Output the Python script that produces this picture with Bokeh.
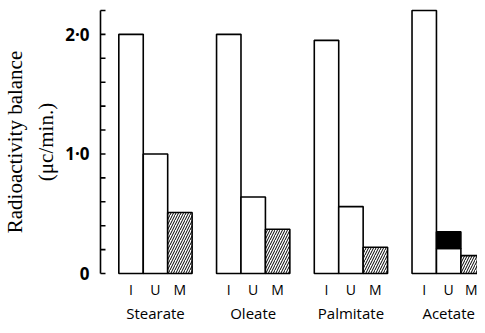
from bokeh.plotting import figure
from bokeh.models import Range1d, FixedTicker, LinearAxis, ColumnDataSource, Title
from bokeh.embed import file_html
from bokeh.resources import INLINE

# ---- data ----
groups = ["Stearate", "Oleate", "Palmitate", "Acetate"]
subs = ["I", "U", "M"]
intake = [2.0, 2.0, 1.95, 2.2]
uptake = [1.0, 0.64, 0.56, 0.21]
uptake_black = [0.0, 0.0, 0.0, 0.14]
muscle = [0.51, 0.37, 0.22, 0.15]
y_major = [0, 1, 2]
y_major_labels = ["0", "1\u00b70", "2\u00b70"]
y_minor = [0.2, 0.4, 0.6, 0.8, 1.2, 1.4, 1.6, 1.8, 2.2]
y_axis_top = 2.2
y_title = ["Radioactivity balance", "(\u03bcc/min.)"]

slots = len(subs) + 1
pos = lambda g, k: g * slots + k
spine_x = -1.25           # axis spine position (in bar-slot units)
pad_x = 2 / 24.5          # small pad so the spine is not clipped
pad_y = 2 / 122.7

p = figure(width=477, height=325, output_backend="svg", toolbar_location=None,
           x_range=Range1d(spine_x - pad_x, 14.18),
           y_range=Range1d(-pad_y, y_axis_top + pad_y),
           min_border_left=97, min_border_right=0, min_border_top=8,
           min_border_bottom=45)
p.outline_line_color = None
p.xgrid.visible = False
p.ygrid.visible = False
p.border_fill_color = "white"
p.background_fill_color = "white"

bar_kw = dict(width=1, line_color="black", line_width=1.6)

xi = [pos(g, 0) for g in range(len(groups))]
xu = [pos(g, 1) for g in range(len(groups))]
xm = [pos(g, 2) for g in range(len(groups))]
p.vbar(x=xi, top=intake, bottom=0, fill_color="white", **bar_kw)
p.vbar(x=xu, top=uptake, bottom=0, fill_color="white", **bar_kw)
blk_top = [u + b for u, b in zip(uptake, uptake_black)]
src_b = ColumnDataSource(dict(x=[x for x, b in zip(xu, uptake_black) if b > 0],
                              bottom=[u for u, b in zip(uptake, uptake_black) if b > 0],
                              top=[t for t, b in zip(blk_top, uptake_black) if b > 0]))
p.vbar(x="x", top="top", bottom="bottom", source=src_b, fill_color="black", **bar_kw)
p.vbar(x=xm, top=muscle, bottom=0, fill_color="white", hatch_pattern="/",
       hatch_color="black", hatch_scale=5, hatch_weight=1, **bar_kw)

# axis spine and inward ticks
p.segment(x0=[spine_x], y0=[0], x1=[spine_x], y1=[y_axis_top],
          line_color="black", line_width=1.6)
all_ticks = sorted(y_major + y_minor)
p.ray(x=[spine_x] * len(all_ticks), y=all_ticks, length=5, length_units="screen",
      angle=0, line_color="black", line_width=1.6)

# y axis (labels only)
yax = p.yaxis[0]
yax.ticker = FixedTicker(ticks=y_major, minor_ticks=y_minor)
yax.major_label_overrides = {t: l for t, l in zip(y_major, y_major_labels)}
yax.axis_line_color = None
yax.major_tick_line_color = None
yax.minor_tick_line_color = None
yax.major_tick_in = 0
yax.major_tick_out = 0
yax.minor_tick_in = 0
yax.minor_tick_out = 0
yax.major_label_standoff = 9
yax.major_label_text_font = "Open Sans"
yax.major_label_text_font_style = "bold"
yax.major_label_text_font_size = "17px"
yax.major_label_text_color = "black"

for txt, so in zip(reversed(y_title), [10, 0]):
    t = Title(text=txt, align="center", standoff=so,
              text_font="Liberation Serif", text_font_style="normal",
              text_font_size="21px", text_color="black")
    p.add_layout(t, "left")

def style_x(ax, ticks, labels, standoff, size):
    ax.ticker = FixedTicker(ticks=ticks, minor_ticks=[])
    ax.major_label_overrides = {t: l for t, l in zip(ticks, labels)}
    ax.axis_line_color = None
    ax.major_tick_line_color = None
    ax.minor_tick_line_color = None
    ax.major_tick_in = 0
    ax.major_tick_out = 0
    ax.minor_tick_in = 0
    ax.minor_tick_out = 0
    ax.axis_label_standoff = 0
    ax.major_label_standoff = standoff
    ax.major_label_text_font = "Open Sans"
    ax.major_label_text_font_size = size
    ax.major_label_text_color = "black"

# x axis: sub-labels
sub_ticks = [pos(g, k) for g in range(len(groups)) for k in range(len(subs))]
sub_labels = [s for g in range(len(groups)) for s in subs]
style_x(p.xaxis[0], sub_ticks, sub_labels, 4, "14px")

# x axis: group labels
grp_ticks = [pos(g, 1) for g in range(len(groups))]
gax = LinearAxis()
style_x(gax, grp_ticks, groups, 1, "15px")
p.add_layout(gax, "below")

open("out.html", "w").write(file_html(p, INLINE))
